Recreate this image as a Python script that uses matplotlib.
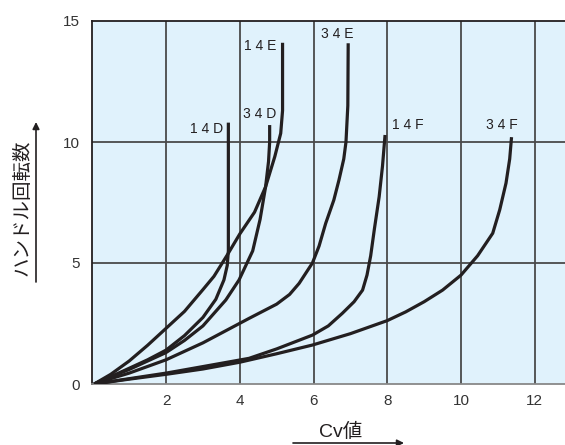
import numpy as np
from matplotlib import pyplot as plt

plt.rcParams['font.family'] = ['Liberation Sans', 'Noto Sans CJK JP', 'DejaVu Sans']

# curves: (Cv, handle turns)
x_14D = [0.05, 0.5, 1, 1.5, 2, 2.5, 3, 3.35, 3.57, 3.66, 3.69, 3.69]
y_14D = [0, 0.3, 0.65, 1.0, 1.4, 2.0, 2.75, 3.5, 4.3, 4.9, 5.5, 10.8]

x_14E = [0.05, 0.5, 1, 1.5, 2, 2.5, 3, 3.3, 3.66, 4.0, 4.4, 4.7, 4.95, 5.11, 5.16, 5.16]
y_14E = [0, 0.4, 0.95, 1.6, 2.3, 3.0, 3.9, 4.45, 5.33, 6.2, 7.1, 8.15, 9.4, 10.36, 11.3, 14.1]

x_34D = [0.05, 0.5, 1, 1.5, 2, 2.5, 3, 3.62, 3.98, 4.35, 4.55, 4.7, 4.78, 4.81, 4.81]
y_34D = [0, 0.3, 0.6, 0.95, 1.3, 1.8, 2.4, 3.47, 4.3, 5.5, 6.8, 8.15, 9.2, 10.0, 10.7]

x_34E = [0.05, 0.5, 1, 2, 3, 4.25, 5, 5.35, 5.61, 5.97, 6.15, 6.33, 6.55, 6.69, 6.82, 6.88, 6.93, 6.94]
y_34E = [0, 0.22, 0.45, 1.0, 1.7, 2.71, 3.3, 3.7, 4.16, 5.0, 5.7, 6.64, 7.6, 8.43, 9.3, 10.0, 11.5, 14.08]

x_14F = [0.05, 1, 2, 3, 4.25, 5, 5.97, 6.4, 6.78, 7.1, 7.33, 7.45, 7.55, 7.65, 7.78, 7.87, 7.94]
y_14F = [0, 0.22, 0.45, 0.72, 1.06, 1.45, 2.02, 2.4, 2.92, 3.4, 3.88, 4.5, 5.3, 6.4, 7.74, 9.0, 10.29]

x_34F = [0.05, 1, 2, 3, 4, 5, 5.97, 7, 8.0, 8.5, 9.0, 9.5, 10.0, 10.45, 10.86, 11.05, 11.22, 11.32, 11.37]
y_34F = [0, 0.2, 0.4, 0.62, 0.9, 1.25, 1.61, 2.08, 2.62, 2.98, 3.4, 3.88, 4.5, 5.3, 6.23, 7.2, 8.3, 9.3, 10.2]

curves = [(x_14D, y_14D), (x_14E, y_14E), (x_34D, y_34D),
          (x_34E, y_34E), (x_14F, y_14F), (x_34F, y_34F)]
names = ["1 4 D", "1 4 E", "3 4 D", "3 4 E", "1 4 F", "3 4 F"]
name_pos = [(3.1, 10.55), (4.55, 13.95), (4.55, 11.15), (6.65, 14.45), (8.55, 10.7), (11.1, 10.7)]

x_ticks = [2, 4, 6, 8, 10, 12]
y_ticks = [0, 5, 10, 15]

fig = plt.figure(figsize=(5.65, 4.45), dpi=100)
ax = fig.add_axes([92.3 / 565, 1 - 384 / 445, 1 - 92.3 / 565, 363 / 445])
ax.set_facecolor("#e0f2fc")
ax.set_xlim(0, 12.82)
ax.set_ylim(0, 15)

for xv in x_ticks:
    ax.axvline(xv, color="#4a4a4a", lw=1.3, zorder=1)
for yv in y_ticks[1:3]:
    ax.axhline(yv, color="#4a4a4a", lw=1.3, zorder=1)

for (xs, ys), n, p in zip(curves, names, name_pos):
    ax.plot(xs, ys, color="#231f20", lw=2.3, solid_capstyle="butt",
            solid_joinstyle="round", zorder=3)
    ax.text(p[0], p[1], n, fontsize=10, color="#231f20", ha="center", va="center")

ax.set_xticks(x_ticks)
ax.set_yticks(y_ticks)
ax.tick_params(length=0, labelsize=11, labelcolor="#333333")
ax.tick_params(axis="x", pad=7)
ax.tick_params(axis="y", pad=9)

ax.spines["right"].set_visible(False)
ax.spines["top"].set_color("#231f20")
ax.spines["left"].set_color("#231f20")
ax.spines["bottom"].set_color("#888888")
for s in ax.spines.values():
    s.set_linewidth(1.3)

fig.text(22 / 565, 1 - 208 / 445, "ハンドル回転数", rotation=90, fontsize=14,
         family=['Noto Sans CJK JP'], color="#231f20", ha="center", va="center")
fig.add_artist(plt.Annotation("", xy=(36 / 565, 1 - 122 / 445), xytext=(36 / 565, 1 - 282 / 445),
                              xycoords="figure fraction", textcoords="figure fraction",
                              arrowprops=dict(arrowstyle="-|>", color="#231f20", lw=1.2,
                                              mutation_scale=10, shrinkA=0, shrinkB=0)))

fig.text(341 / 565, 1 - 432 / 445, "Cv値", fontsize=14, color="#231f20",
         ha="center", va="center")
fig.add_artist(plt.Annotation("", xy=(404 / 565, 1 - 443 / 445), xytext=(293 / 565, 1 - 443 / 445),
                              xycoords="figure fraction", textcoords="figure fraction",
                              arrowprops=dict(arrowstyle="-|>", color="#231f20", lw=1.2,
                                              mutation_scale=10, shrinkA=0, shrinkB=0)))

fig.savefig("out.png", dpi=100)
